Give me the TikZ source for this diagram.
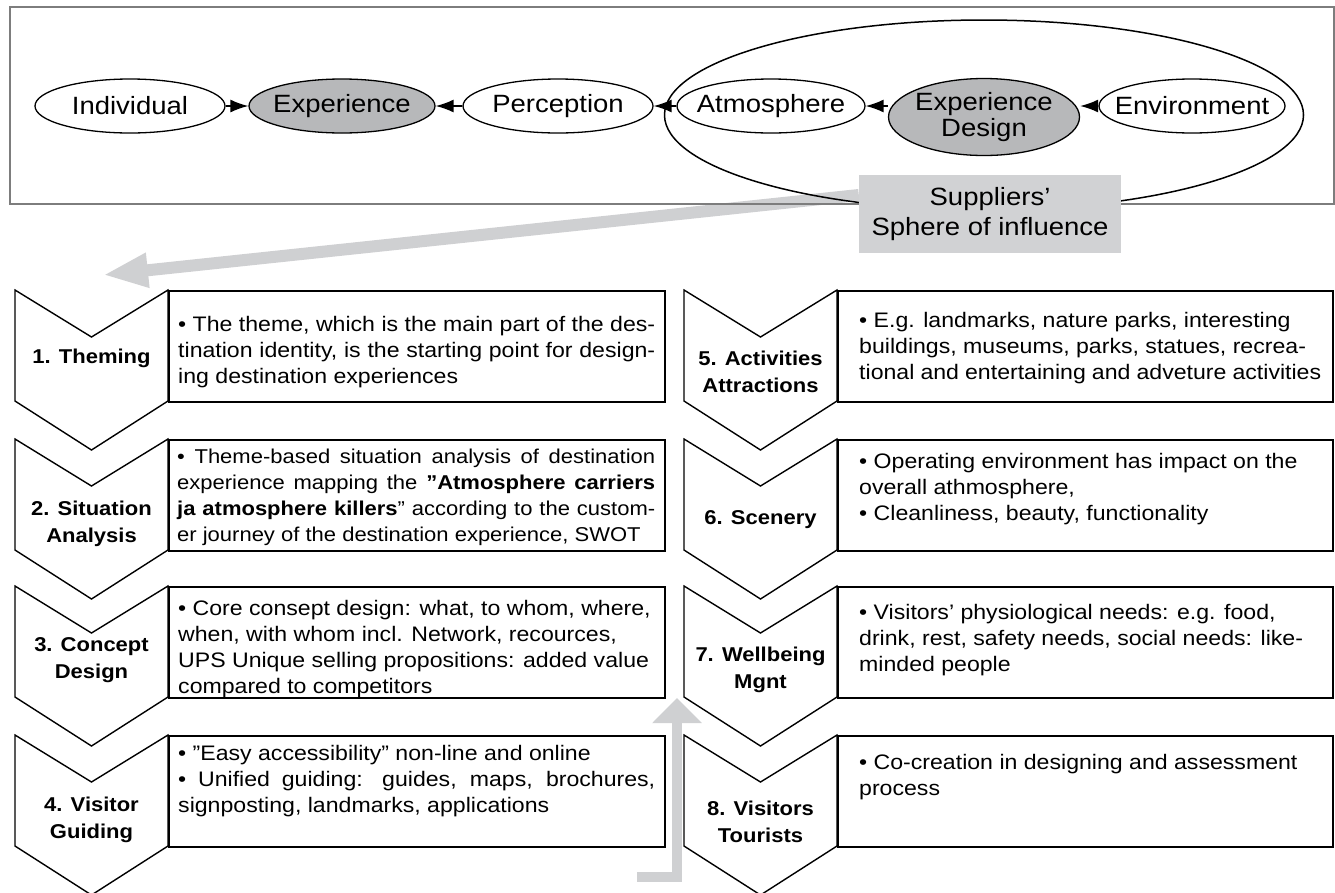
\documentclass[tikz,border=0pt]{standalone}
\usepackage{fontspec}
\setmainfont{Liberation Sans}[FakeStretch=1.1]
\usepackage{tikz}
\usetikzlibrary{shapes.geometric,arrows.meta,positioning,calc,backgrounds}

\definecolor{ovalgray}{RGB}{183,184,186}
\definecolor{supgray}{RGB}{209,210,212}
\definecolor{arrowgray}{RGB}{207,208,210}
\definecolor{framegray}{RGB}{125,125,125}

% chevron of one step, top left corner at (#1,#2)
\newcommand{\stepchevron}[2]{%
	\draw[stepchev] (#1,#2) -- ++(76.5,47) -- ++(76.5,-47) -- ++(0,111) -- ++(-76.5,49) -- ++(-76.5,-49) -- cycle;}

\tikzset{
	oval/.style={draw,ellipse,line width=1.3pt,minimum width=190pt,minimum height=54pt,
		inner xsep=-30pt,inner ysep=-3pt,align=center,font=\fontsize{25}{26}\selectfont},
	supbox/.style={fill=supgray,minimum width=262pt,minimum height=78pt,align=center,
		font=\fontsize{25}{30}\selectfont},
	flow/.style={-{Latex[length=18pt,width=13pt]},line width=1.5pt},
	bigarrow/.style={draw=arrowgray,line width=12pt},
	stepchev/.style={draw,fill=white,line width=1.4pt,line join=miter},
	stepbox/.style={draw,line width=1.6pt,minimum height=111pt,anchor=north west,inner sep=0pt},
	steplabel/.style={align=center,font=\bfseries\fontsize{20}{27}\selectfont},
	steptext/.style={anchor=west,inner sep=0pt,align=justify,font=\fontsize{21}{26}\selectfont},
}

\begin{document}
\begin{tikzpicture}[x=1pt,y=-1pt]
	\useasboundingbox (0,0) rectangle (1335,892);
	
	% top panel
	\draw[framegray,line width=1.1pt] (10,7) rectangle (1334,204);
	\node[draw,ellipse,line width=1.5pt,minimum width=639pt,minimum height=190pt] (sphere) at (984,115) {};
	\node[oval] (indiv) at (130,106) {Individual};
	\node[oval,fill=ovalgray,minimum width=186pt] (exper) at (342,106) {Experience};
	\node[oval] (percep) at (558,106) {Perception};
	\node[oval,minimum width=188pt] (atmos) at (771,106) {Atmosphere};
	\node[oval,fill=ovalgray,minimum width=191pt,minimum height=77pt] (expdes) at (984,117) {Experience\\Design};
	\node[oval,minimum width=186pt] (envir) at (1192,106) {Environment};
	\node[supbox] (sup) at (990,214) {Suppliers’\\Sphere of influence};
	
	\draw[flow] (indiv) -- (exper);
	\draw[flow] (percep) -- (exper);
	\draw[flow] (atmos) -- (percep);
	\draw[flow] (expdes.west |- atmos.east) -- (atmos);
	\draw[flow] (envir) -- (envir.west -| expdes.east);
	
	% gray arrows
	\coordinate (diagtip) at (103,275);
	\coordinate (loopin) at (637,877);
	\coordinate (looptip) at (677,698);
	\begin{scope}[on background layer]
		\draw[bigarrow,-{Triangle[length=45pt,width=32pt]}] ([yshift=19pt]sup.west) -- (diagtip);
	\end{scope}
	
	% steps
	\foreach \y in {290,439,586,735}{
		\stepchevron{15}{\y}
		\stepchevron{684}{\y}
	}
	\node[stepbox,minimum width=496pt] (box1) at (168,290) {};
	\node[stepbox,minimum width=496pt] (box2) at (168,439) {};
	\node[stepbox,minimum width=496pt] (box3) at (168,586) {};
	\node[stepbox,minimum width=496pt] (box4) at (168,735) {};
	\node[stepbox,minimum width=495pt] (box5) at (837,290) {};
	\node[stepbox,minimum width=495pt] (box6) at (837,439) {};
	\node[stepbox,minimum width=495pt] (box7) at (837,586) {};
	\node[stepbox,minimum width=495pt] (box8) at (837,735) {};
	
	\node[steplabel] (lab1) at (91.5,358) {1. Theming};
	\node[steplabel] (lab2) at (91.5,524) {2. Situation\\Analysis};
	\node[steplabel] (lab3) at (91.5,660) {3. Concept\\Design};
	\node[steplabel] (lab4) at (91.5,820) {4. Visitor\\Guiding};
	\node[steplabel] (lab5) at (760.5,372) {5. Activities\\Attractions};
	\node[steplabel] (lab6) at (760.5,520) {6. Scenery};
	\node[steplabel] (lab7) at (760.5,670) {7. Wellbeing\\Mgnt};
	\node[steplabel] (lab8) at (760.5,822) {8. Visitors\\Tourists};
	
	\node[steptext,text width=477pt] (txt1) at (178,352) {• The theme, which is the main part of the des-\linebreak tination identity, is the starting point for design-\linebreak ing destination experiences};
	\node[steptext,text width=478pt,font=\fontsize{20}{26}\selectfont] (txt2) at (177,497) {\hyphenpenalty=10000 • Theme-based situation analysis of destination\linebreak experience mapping the \textbf{”Atmosphere carriers}\linebreak \textbf{ja atmosphere killers}” according to the custom-\linebreak er journey of the destination experience, SWOT};
	\node[steptext,text width=477pt] (txt3) at (178,649) {• Core consept design: what, to whom, where,\\ when, with whom incl. Network, recources,\\ UPS Unique selling propositions: added value\\ compared to competitors};
	\node[steptext,text width=477pt] (txt4) at (178,781) {• ”Easy accessibility” non-line and online\\ • Unified guiding: guides, maps, brochures,\linebreak signposting, landmarks, applications};
	\node[steptext,text width=462pt] (txt5) at (859,348) {• E.g. landmarks, nature parks, interesting\\ buildings, museums, parks, statues, recrea-\\ tional and entertaining and adveture activities};
	\node[steptext,text width=462pt] (txt6) at (859,489) {• Operating environment has impact on the\\ overall athmosphere,\\ • Cleanliness, beauty, functionality};
	\node[steptext,text width=462pt] (txt7) at (859,640) {• Visitors’ physiological needs: e.g. food,\\ drink, rest, safety needs, social needs: like-\\ minded people};
	\node[steptext,text width=462pt] (txt8) at (859,777) {• Co-creation in designing and assessment\\ process};
	
	\draw[bigarrow,-{Triangle[length=25pt,width=48pt]},line width=10pt] (loopin) -| (looptip);
\end{tikzpicture}
\end{document}
